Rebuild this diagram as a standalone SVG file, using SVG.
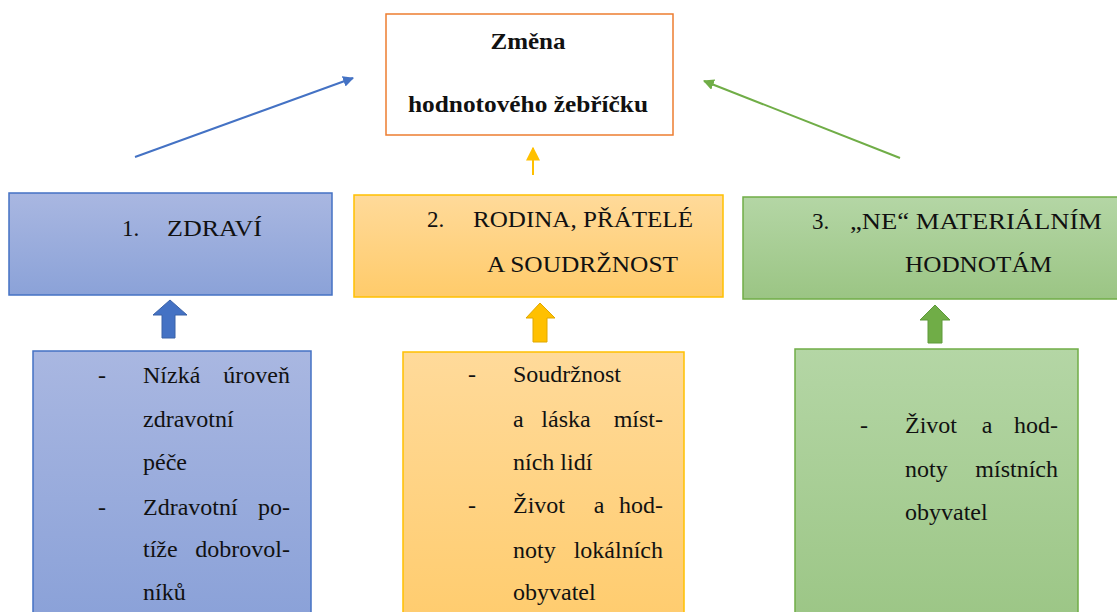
<svg xmlns="http://www.w3.org/2000/svg" width="1117" height="612" viewBox="0 0 1117 612">
<style>
text{font-family:"Liberation Serif","DejaVu Serif","Noto Serif","Times New Roman",serif;font-size:24px;fill:#111}
.t{font-weight:bold;font-size:24px;text-anchor:middle}
.h{font-size:23px}
.e{text-anchor:end}
.m{text-anchor:middle}
</style>
<defs>
<linearGradient id="gb" x1="0" y1="0" x2="0" y2="1"><stop offset="0" stop-color="#A9B7E1"/><stop offset="1" stop-color="#8BA2D8"/></linearGradient>
<linearGradient id="go" x1="0" y1="0" x2="0" y2="1"><stop offset="0" stop-color="#FFDA9A"/><stop offset="1" stop-color="#FFCB6A"/></linearGradient>
<linearGradient id="gg" x1="0" y1="0" x2="0" y2="1"><stop offset="0" stop-color="#B4D6A5"/><stop offset="1" stop-color="#9BC584"/></linearGradient>
<linearGradient id="gb2" x1="0" y1="0" x2="0" y2="1"><stop offset="0" stop-color="#A9B7E1"/><stop offset="1" stop-color="#8AA1D8"/></linearGradient>
<linearGradient id="go2" x1="0" y1="0" x2="0" y2="1"><stop offset="0" stop-color="#FFDA9A"/><stop offset="1" stop-color="#FFCC6E"/></linearGradient>
<linearGradient id="gg2" x1="0" y1="0" x2="0" y2="1"><stop offset="0" stop-color="#B4D6A5"/><stop offset="1" stop-color="#9CC686"/></linearGradient>
<marker id="ab" viewBox="0 0 10 10" refX="9" refY="5" markerWidth="5.5" markerHeight="5.5" orient="auto" markerUnits="strokeWidth"><path d="M0,0 L10,5 L0,10 z" fill="#4472C4"/></marker>
<marker id="ag" viewBox="0 0 10 10" refX="9" refY="5" markerWidth="5.5" markerHeight="5.5" orient="auto" markerUnits="strokeWidth"><path d="M0,0 L10,5 L0,10 z" fill="#70AD47"/></marker>
<marker id="ao" viewBox="0 0 10 10" refX="9" refY="5" markerWidth="7" markerHeight="7" orient="auto" markerUnits="strokeWidth"><path d="M0,0 L10,5 L0,10 z" fill="#FFC000"/></marker>
</defs>

<g id="top">
<rect x="386" y="14" width="287" height="121" fill="#fff" stroke="#ED7D31" stroke-width="1.5"/>
<text class="t" x="528" y="49" textLength="75" lengthAdjust="spacingAndGlyphs">Změna</text>
<text class="t" x="528" y="112" textLength="240" lengthAdjust="spacingAndGlyphs">hodnotového žebříčku</text>
</g>

<g id="connectors">
<line x1="135" y1="157" x2="353" y2="78" stroke="#4472C4" stroke-width="2" marker-end="url(#ab)"/>
<line x1="900" y1="158" x2="704" y2="81" stroke="#70AD47" stroke-width="2" marker-end="url(#ag)"/>
<line x1="533" y1="175" x2="533" y2="148" stroke="#FFC000" stroke-width="2" marker-end="url(#ao)"/>
<path d="M170,300 L187,315 L175,315 L175,338 L162,338 L162,315 L153,315 Z" fill="#4472C4" stroke="#3A62A8" stroke-width="1"/>
<path d="M540,303 L555,318 L547,318 L547,342 L533,342 L533,318 L526,318 Z" fill="#FFC000" stroke="#E0A800" stroke-width="1"/>
<path d="M935,305 L950,320 L942,320 L942,343 L928,343 L928,320 L920,320 Z" fill="#70AD47" stroke="#5E9A3A" stroke-width="1"/>
</g>

<g id="h1">
<rect x="9" y="193" width="323" height="102" fill="url(#gb)" stroke="#4472C4" stroke-width="1.5"/>
<text class="h" x="122" y="236">1.</text>
<text class="h" x="167" y="236" textLength="95" lengthAdjust="spacingAndGlyphs">ZDRAVÍ</text>
</g>

<g id="h2">
<rect x="354" y="195" width="369" height="102" fill="url(#go)" stroke="#FFC000" stroke-width="1.5"/>
<text class="h" x="427" y="227">2.</text>
<text class="h" x="473" y="227" textLength="220" lengthAdjust="spacingAndGlyphs">RODINA, PŘÁTELÉ</text>
<text class="h" x="487" y="272" textLength="191" lengthAdjust="spacingAndGlyphs">A SOUDRŽNOST</text>
</g>

<g id="h3">
<rect x="743" y="197" width="380" height="102" fill="url(#gg)" stroke="#70AD47" stroke-width="1.5"/>
<text class="h" x="812" y="229">3.</text>
<text class="h" x="850" y="229" textLength="252" lengthAdjust="spacingAndGlyphs">„NE“ MATERIÁLNÍM</text>
<text class="h" x="905" y="272" textLength="147" lengthAdjust="spacingAndGlyphs">HODNOTÁM</text>
</g>

<g id="b1">
<rect x="33" y="351" width="278" height="270" fill="url(#gb2)" stroke="#4472C4" stroke-width="1.5"/>
<text x="98" y="383">-</text>
<text x="143" y="383">Nízká</text><text class="e" x="290" y="383">úroveň</text>
<text x="143" y="427">zdravotní</text>
<text x="143" y="470">péče</text>
<text x="98" y="515">-</text>
<text x="143" y="515">Zdravotní</text><text class="e" x="290" y="515">po-</text>
<text x="143" y="557">tíže</text><text class="e" x="290" y="557">dobrovol-</text>
<text x="143" y="600">níků</text>
</g>

<g id="b2">
<rect x="403" y="352" width="281" height="270" fill="url(#go2)" stroke="#FFC000" stroke-width="1.5"/>
<text x="468" y="382">-</text>
<text x="513" y="382">Soudržnost</text>
<text x="513" y="427">a</text><text class="m" x="566" y="427">láska</text><text class="e" x="663" y="427">míst-</text>
<text x="513" y="470">ních lidí</text>
<text x="468" y="513">-</text>
<text x="513" y="513">Život</text><text class="m" x="599" y="513">a</text><text class="e" x="663" y="513">hod-</text>
<text x="513" y="558">noty</text><text class="e" x="663" y="558">lokálních</text>
<text x="513" y="600">obyvatel</text>
</g>

<g id="b3">
<rect x="795" y="349" width="283" height="270" fill="url(#gg2)" stroke="#70AD47" stroke-width="1.5"/>
<text x="860" y="433">-</text>
<text x="905" y="433">Život</text><text class="m" x="987" y="433">a</text><text class="e" x="1058" y="433">hod-</text>
<text x="905" y="477">noty</text><text class="e" x="1058" y="477">místních</text>
<text x="905" y="520">obyvatel</text>
</g>
</svg>
